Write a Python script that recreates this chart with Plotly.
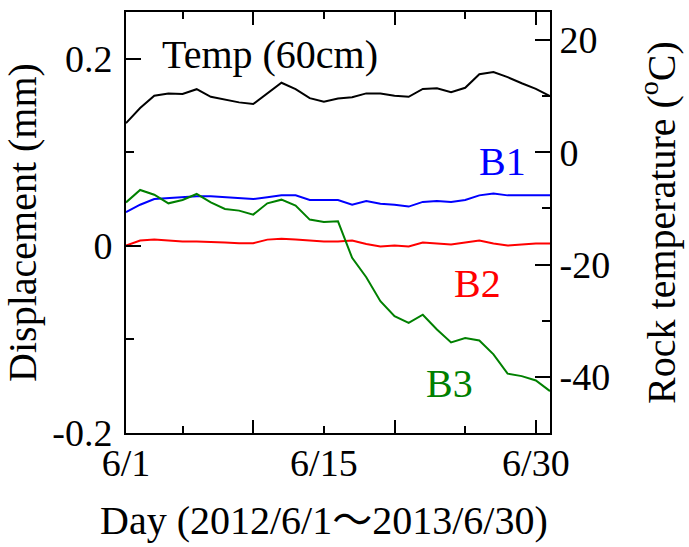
import plotly.graph_objects as go

days = list(range(31))

temp_60cm = [5.2, 7.9, 10.1, 10.5, 10.4, 11.25, 9.9, 9.35, 8.9, 8.6, 10.5, 12.4, 11.25, 9.65, 9.0, 9.6,
             9.8, 10.5, 10.5, 10.1, 9.9, 11.3, 11.4, 10.7, 11.5, 13.9, 14.3, 13.4, 12.3, 11.3, 10.0]

b1 = [0.036, 0.044, 0.050, 0.051, 0.052, 0.053, 0.053, 0.052, 0.051, 0.050, 0.052, 0.054, 0.054, 0.049,
      0.049, 0.049, 0.044, 0.048, 0.045, 0.044, 0.042, 0.047, 0.048, 0.047, 0.049, 0.054, 0.056, 0.054,
      0.054, 0.054, 0.054]

b2 = [0.0003, 0.0057, 0.0067, 0.0057, 0.0046, 0.0046, 0.0043, 0.0035, 0.0028, 0.0028, 0.0067, 0.0075,
      0.0067, 0.0057, 0.0046, 0.0046, 0.0057, 0.0021, -0.0007, 0.0003, -0.0007, 0.0035, 0.0025, 0.0014,
      0.0035, 0.0057, 0.0025, 0.0003, 0.0014, 0.0025, 0.0025]

b3 = [0.0465, 0.0598, 0.0547, 0.0455, 0.0491, 0.0555, 0.0465, 0.0395, 0.0377, 0.0334, 0.0455, 0.0494,
      0.0430, 0.0281, 0.0256, 0.0263, -0.0128, -0.0335, -0.0591, -0.0751, -0.0822, -0.0736, -0.0893,
      -0.1032, -0.0986, -0.1011, -0.1160, -0.1366, -0.1392, -0.1438, -0.1552]

x_label_vals = [0, 14, 29]
x_label_text = ["6/1", "6/15", "6/30"]
x_major_ticks = [9, 19, 29]
x_minor_ticks = [4, 14, 24]

y_major = [-0.2, 0, 0.2]
y_major_text = ["-0.2", "0", "0.2"]
y_minor = [-0.1, 0.1]

y2_major = [-40, -20, 0, 20]
y2_major_text = ["-40", "-20", "0", "20"]
y2_minor = [-30, -10, 10]

FONT = "Liberation Serif, Noto Sans CJK JP, serif"
FS = 38
TS = 40

fig = go.Figure()
fig.add_trace(go.Scatter(x=days, y=b1, mode="lines", line=dict(color="#0000ff", width=2),
                         xaxis="x", yaxis="y", showlegend=False))
fig.add_trace(go.Scatter(x=days, y=b2, mode="lines", line=dict(color="#ff0000", width=2),
                         xaxis="x", yaxis="y", showlegend=False))
fig.add_trace(go.Scatter(x=days, y=b3, mode="lines", line=dict(color="#008000", width=2),
                         xaxis="x", yaxis="y", showlegend=False))
fig.add_trace(go.Scatter(x=days, y=temp_60cm, mode="lines", line=dict(color="#000000", width=2),
                         xaxis="x2", yaxis="y2", showlegend=False))

axis_common = dict(showgrid=False, zeroline=False, linecolor="black", linewidth=2, automargin=False,
                   tickcolor="black", tickwidth=2, tickfont=dict(family=FONT, size=FS, color="black"))

fig.update_layout(
    template="none",
    width=689, height=547,
    margin=dict(l=126, r=139, t=12, b=114, autoexpand=False),
    paper_bgcolor="white", plot_bgcolor="white",
    font=dict(family=FONT, size=FS, color="black"),
    xaxis=dict(range=[0, 30], showline=True, mirror="ticks", ticks="inside",
               tickvals=x_major_ticks, ticklen=13, showticklabels=False,
               minor=dict(tickvals=x_minor_ticks, ticklen=7, ticks="inside", tickcolor="black", tickwidth=2),
               **axis_common),
    xaxis2=dict(range=[0, 30], overlaying="x", anchor="y", side="bottom", showline=False, ticks="",
                tickvals=x_label_vals, ticktext=x_label_text, ticklabelstandoff=4,
                showgrid=False, zeroline=False, automargin=False,
                tickfont=dict(family=FONT, size=FS, color="black")),
    yaxis=dict(range=[-0.2, 0.25], showline=True, mirror=False, ticks="inside",
               tickvals=y_major, ticktext=y_major_text, ticklen=15, ticklabelstandoff=4,
               minor=dict(tickvals=y_minor, ticklen=8, ticks="inside", tickcolor="black", tickwidth=2),
               title=dict(text="Displacement (mm)", font=dict(family=FONT, size=TS), standoff=7),
               **axis_common),
    yaxis2=dict(range=[-50, 25], overlaying="y", side="right", anchor="x", showline=True, ticks="inside",
                tickvals=y2_major, ticktext=y2_major_text, ticklen=15, ticklabelstandoff=0,
                minor=dict(tickvals=y2_minor, ticklen=8, ticks="inside", tickcolor="black", tickwidth=2),
                title=dict(text="Rock temperature (<sup>o</sup>C)", font=dict(family=FONT, size=TS), standoff=38),
                **axis_common),
)

# x-axis title (placed as an annotation so it can sit slightly left of the plot centre, as in the reference)
fig.add_annotation(text="Day (2012/6/1～2013/6/30)", x=0.467, y=-0.207, xref="paper", yref="paper",
                   showarrow=False, xanchor="center", yanchor="middle",
                   font=dict(family=FONT, size=TS, color="black"))

labels = [
    ("Temp (60cm)", 0.340, 0.900, "black"),
    ("B1", 0.888, 0.644, "#0000ff"),
    ("B2", 0.829, 0.356, "#ff0000"),
    ("B3", 0.764, 0.118, "#008000"),
]
for text, ax_, ay_, col in labels:
    fig.add_annotation(text=text, x=ax_, y=ay_, xref="paper", yref="paper", showarrow=False,
                       xanchor="center", yanchor="middle",
                       font=dict(family=FONT, size=40, color=col))

fig.write_html("out.html")
